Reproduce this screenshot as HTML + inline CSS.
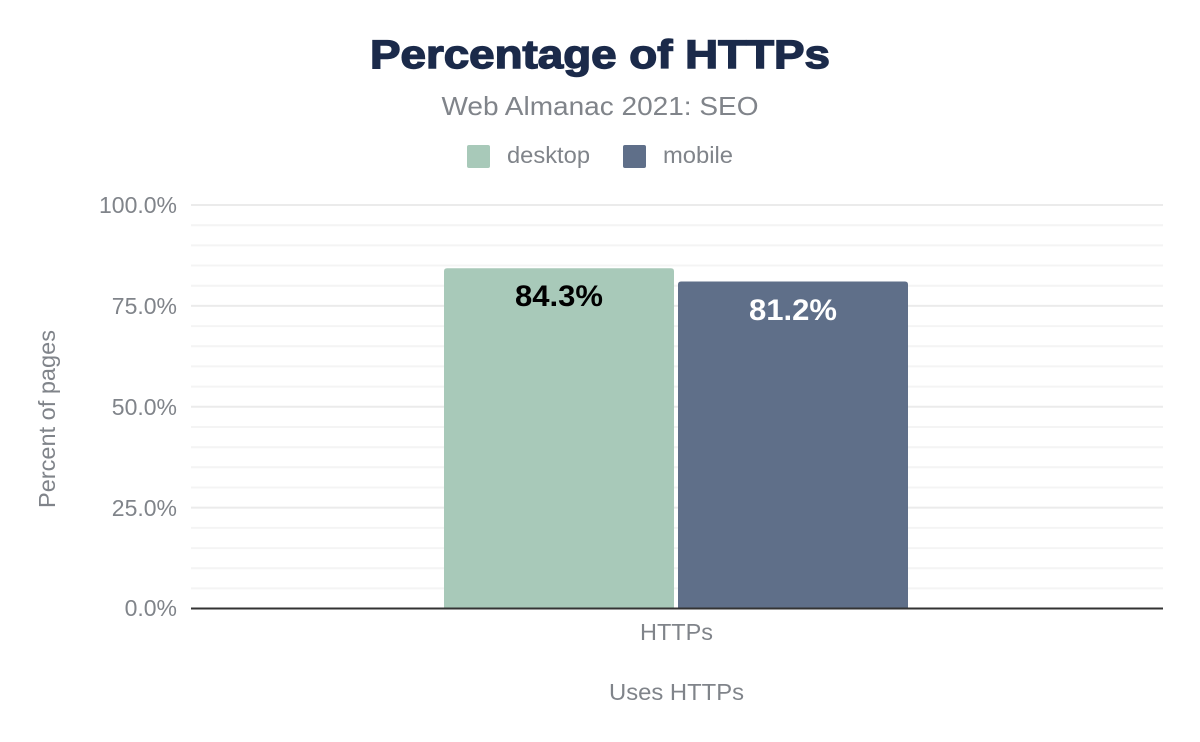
<!DOCTYPE html>
<html>
<head>
<meta charset="utf-8">
<style>
  html, body { margin: 0; padding: 0; background: #ffffff; }
  body { width: 1200px; height: 742px; overflow: hidden; }
  svg { display: block; }
  text { font-family: "Liberation Sans", Arial, sans-serif; }
</style>
</head>
<body>
<svg width="1200" height="742" viewBox="0 0 1200 742" xmlns="http://www.w3.org/2000/svg">
  <rect x="0" y="0" width="1200" height="742" fill="#ffffff"/>

  <!-- Title -->
  <text x="600" y="68" text-anchor="middle" font-size="40" font-weight="bold" fill="#1b2a4a" stroke="#1b2a4a" stroke-width="1.4" textLength="460" lengthAdjust="spacingAndGlyphs">Percentage of HTTPs</text>
  <!-- Subtitle -->
  <text x="600" y="115" text-anchor="middle" font-size="26" fill="#80848a" textLength="317" lengthAdjust="spacingAndGlyphs">Web Almanac 2021: SEO</text>

  <!-- Legend -->
  <rect x="467" y="145" width="23" height="23" rx="2" fill="#a8c9b9"/>
  <text x="507" y="163" font-size="23" fill="#80848a" textLength="83" lengthAdjust="spacingAndGlyphs">desktop</text>
  <rect x="623" y="145" width="23" height="23" rx="2" fill="#5f6f89"/>
  <text x="663" y="163" font-size="23" fill="#80848a" textLength="70" lengthAdjust="spacingAndGlyphs">mobile</text>

  <!-- Minor gridlines -->
  <g stroke="#f4f4f4" stroke-width="2">
    <line x1="191" x2="1163" y1="225.2" y2="225.2"/>
    <line x1="191" x2="1163" y1="245.4" y2="245.4"/>
    <line x1="191" x2="1163" y1="265.5" y2="265.5"/>
    <line x1="191" x2="1163" y1="285.7" y2="285.7"/>
    <line x1="191" x2="1163" y1="326.1" y2="326.1"/>
    <line x1="191" x2="1163" y1="346.3" y2="346.3"/>
    <line x1="191" x2="1163" y1="366.4" y2="366.4"/>
    <line x1="191" x2="1163" y1="386.6" y2="386.6"/>
    <line x1="191" x2="1163" y1="427.0" y2="427.0"/>
    <line x1="191" x2="1163" y1="447.2" y2="447.2"/>
    <line x1="191" x2="1163" y1="467.3" y2="467.3"/>
    <line x1="191" x2="1163" y1="487.5" y2="487.5"/>
    <line x1="191" x2="1163" y1="527.9" y2="527.9"/>
    <line x1="191" x2="1163" y1="548.1" y2="548.1"/>
    <line x1="191" x2="1163" y1="568.2" y2="568.2"/>
    <line x1="191" x2="1163" y1="588.4" y2="588.4"/>
  </g>
  <!-- Major gridlines -->
  <g stroke="#ebebeb" stroke-width="2">
    <line x1="191" x2="1163" y1="205" y2="205"/>
    <line x1="191" x2="1163" y1="305.9" y2="305.9"/>
    <line x1="191" x2="1163" y1="406.8" y2="406.8"/>
    <line x1="191" x2="1163" y1="507.6" y2="507.6"/>
  </g>

  <!-- Y tick labels -->
  <g font-size="23" fill="#80848a" text-anchor="end">
    <text x="177" y="213">100.0%</text>
    <text x="177" y="314">75.0%</text>
    <text x="177" y="415">50.0%</text>
    <text x="177" y="516">25.0%</text>
    <text x="177" y="616">0.0%</text>
  </g>

  <!-- Y axis title -->
  <text transform="translate(55,419) rotate(-90)" text-anchor="middle" font-size="23" fill="#80848a" textLength="178" lengthAdjust="spacingAndGlyphs">Percent of pages</text>

  <!-- Bars -->
  <path d="M444,608.5 L444,271.3 Q444,268.3 447,268.3 L671,268.3 Q674,268.3 674,271.3 L674,608.5 Z" fill="#a8c9b9"/>
  <path d="M678,608.5 L678,284.5 Q678,281.5 681,281.5 L905,281.5 Q908,281.5 908,284.5 L908,608.5 Z" fill="#5f6f89"/>

  <!-- Bar labels -->
  <text x="559" y="306" text-anchor="middle" font-size="30" font-weight="bold" fill="#000000" textLength="88" lengthAdjust="spacingAndGlyphs">84.3%</text>
  <text x="793" y="320" text-anchor="middle" font-size="30" font-weight="bold" fill="#ffffff" textLength="88" lengthAdjust="spacingAndGlyphs">81.2%</text>

  <!-- Axis line -->
  <line x1="191" x2="1163" y1="608.5" y2="608.5" stroke="#333333" stroke-width="2"/>

  <!-- X tick label -->
  <text x="676.5" y="640" text-anchor="middle" font-size="23" fill="#80848a" textLength="73" lengthAdjust="spacingAndGlyphs">HTTPs</text>

  <!-- X axis title -->
  <text x="676.5" y="700" text-anchor="middle" font-size="23" fill="#80848a" textLength="135" lengthAdjust="spacingAndGlyphs">Uses HTTPs</text>
</svg>
</body>
</html>
